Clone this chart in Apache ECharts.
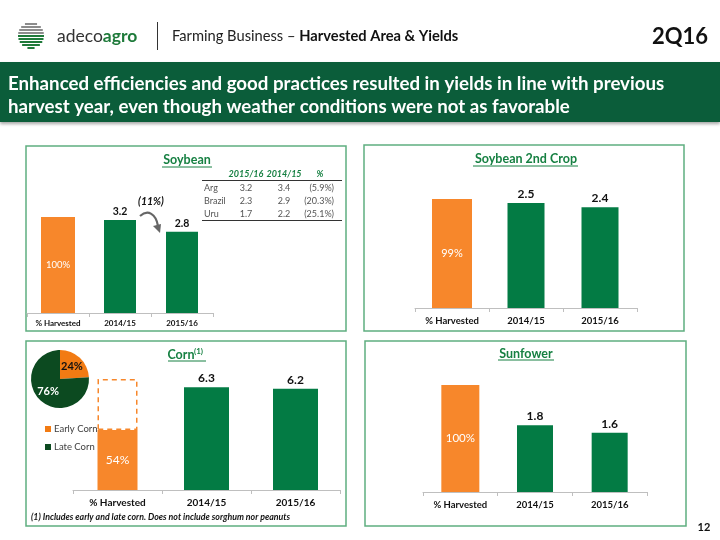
<!DOCTYPE html>
<html><head><meta charset="utf-8">
<script src="https://cdn.jsdelivr.net/npm/echarts@6/dist/echarts.min.js"></script>
<style>html,body{margin:0;padding:0;background:#fff}#c{width:720px;height:540px}</style>
</head><body><div id="c"></div>
<script>
// ---------- data ----------
const categories = ['% Harvested', '2014/15', '2015/16'];
const soybeanHarvestedPct = [100, null, null];
const soybeanYield = [null, 3.2, 2.8];
const soybean2HarvestedPct = [99, null, null];
const soybean2Yield = [null, 2.5, 2.4];
const cornHarvestedPct = [54, null, null];
const cornPendingPct = [46, null, null];
const cornYield = [null, 6.3, 6.2];
const sunflowerHarvestedPct = [100, null, null];
const sunflowerYield = [null, 1.8, 1.6];
const cornMixNames = ['Early Corn', 'Late Corn'];
const cornMixPct = [24, 76];
const tableHeader = ['2015/16', '2014/15', '%'];
const tableRegions = ['Arg', 'Brazil', 'Uru'];
const table2015 = ['3.2', '2.3', '1.7'];
const table2014 = ['3.4', '2.9', '2.2'];
const tableChange = ['(5.9%)', '(20.3%)', '(25.1%)'];
const soybeanChangeLabel = '(11%)';
const panelTitles = ['Soybean', 'Soybean 2nd Crop', 'Corn', 'Sunfower'];

// ---------- style ----------
const FF = 'Lato, "Open Sans", sans-serif';
const ORANGE = '#F7872B';
const GREEN = '#037B44';
const TGREEN = '#168042';
const DARKG = '#0C4A20';

const chart = echarts.init(document.getElementById('c'), null, {renderer: 'canvas'});

const grids = [
  {left: 27, top: 200, width: 186, height: 113},
  {left: 415, top: 190, width: 222, height: 118},
  {left: 73, top: 370, width: 267, height: 120},
  {left: 423, top: 375, width: 224, height: 117}
];
const greenMax = [3.89, 2.81, 7.35, 3.154];
const orangeMax = [117.7, 107.2, 108.1, 109.3];
const labelSize = [8, 9.5, 10, 9.5];
const labelMargin = [6, 8, 8, 8];

const xAxis = [], yAxis = [];
grids.forEach((g, i) => {
  xAxis.push({
    type: 'category', gridIndex: i, data: categories,
    axisLine: {lineStyle: {color: '#BFBFBF', width: 1}},
    axisTick: {show: true, length: 4, lineStyle: {color: '#BFBFBF'}},
    axisLabel: {interval: 0, hideOverlap: false, fontFamily: FF, fontWeight: 'bold', fontSize: labelSize[i], color: '#111', margin: labelMargin[i]}
  });
  xAxis.push({type: 'category', gridIndex: i, data: categories, show: false});
  yAxis.push({type: 'value', gridIndex: i, min: 0, max: greenMax[i], show: false, splitLine: {show: false}});
  yAxis.push({type: 'value', gridIndex: i, min: 0, max: orangeMax[i], show: false, splitLine: {show: false}});
});

function greenSeries(i, data, bw, fs) {
  return {
    type: 'bar', xAxisIndex: 2 * i, yAxisIndex: 2 * i, data: data, barWidth: bw,
    itemStyle: {color: GREEN}, silent: true,
    label: {show: true, position: 'top', distance: 3, fontFamily: FF, fontWeight: 'bold', fontSize: fs, color: '#111',
      formatter: p => Number(p.value).toFixed(1)}
  };
}
function orangeSeries(i, data, bw, fs, extra) {
  return Object.assign({
    type: 'bar', xAxisIndex: 2 * i + 1, yAxisIndex: 2 * i + 1, data: data, barWidth: bw,
    itemStyle: {color: ORANGE}, silent: true,
    label: {show: true, position: 'inside', fontFamily: FF, fontSize: fs, color: '#fff', formatter: '{c}%'}
  }, extra || {});
}

const series = [
  orangeSeries(0, soybeanHarvestedPct, 34, 9.5),
  greenSeries(0, soybeanYield, 32, 10.5),
  orangeSeries(1, soybean2HarvestedPct, 40, 11),
  greenSeries(1, soybean2Yield, 37, 12),
  orangeSeries(2, cornHarvestedPct, 40, 12, {stack: 'corn'}),
  {
    type: 'bar', xAxisIndex: 5, yAxisIndex: 5, data: cornPendingPct, barWidth: 40, stack: 'corn', silent: true,
    itemStyle: {color: 'rgba(255,255,255,0)', borderColor: ORANGE, borderWidth: 1.5, borderType: [5, 4]}
  },
  greenSeries(2, cornYield, 45, 12),
  orangeSeries(3, sunflowerHarvestedPct, 38, 11.5),
  greenSeries(3, sunflowerYield, 36, 12),
  {
    type: 'pie', center: [60, 379], radius: 29, startAngle: 90, clockwise: true, silent: true,
    labelLine: {show: false},
    label: {show: true, position: 'inside', fontFamily: FF, fontWeight: 'bold', fontSize: 11, formatter: '{c}%'},
    data: cornMixNames.map((n, k) => ({
      name: n, value: cornMixPct[k],
      itemStyle: {color: k === 0 ? '#F27B13' : DARKG},
      label: {color: k === 0 ? '#111' : '#fff'}
    }))
  }
];

// ---------- graphics ----------
const G = [];
function txt(x, y, text, opt) {
  G.push({type: 'text', x: x, y: y, silent: true, z: 10,
    style: Object.assign({text: text, fill: '#222', fontFamily: FF, fontSize: 10, align: 'left', verticalAlign: 'middle'}, opt || {})});
}
function line(x1, y1, x2, y2, color, w) {
  G.push({type: 'line', silent: true, z: 9, shape: {x1, y1, x2, y2}, style: {stroke: color, lineWidth: w || 1}});
}
// logo
for (let k = 0; k < 9; k++) {
  const yy = 23 + k * 3;
  const dy = yy + 1 - 35.5;
  const hw = Math.sqrt(Math.max(0, 13 * 13 - dy * dy));
  G.push({type: 'rect', silent: true, shape: {x: 31 - hw, y: yy, width: 2 * hw, height: 2},
    style: {fill: k < 4 ? '#8c8c8c' : '#1F7A3A'}});
}
txt(57, 36, '{a|adeco}{b|agro}', {rich: {a: {fontFamily: FF, fontSize: 17.5, fill: '#333'}, b: {fontFamily: FF, fontSize: 17.5, fontWeight: 'bold', fill: '#1E7A3A'}}});
line(157.5, 22, 157.5, 50, '#333', 1);
txt(172, 36, '{a|Farming Business – }{b|Harvested Area & Yields}', {rich: {a: {fontFamily: FF, fontSize: 14.7, fill: '#222'}, b: {fontFamily: FF, fontSize: 14.7, fontWeight: 'bold', fill: '#111'}}});
txt(708, 37, '2Q16', {fontSize: 22, fontWeight: 'bold', fill: '#111', align: 'right'});
// banner
G.push({type: 'rect', silent: true, shape: {x: 0, y: 62, width: 720, height: 60},
  style: {fill: '#0B5D3A', shadowBlur: 3, shadowColor: 'rgba(0,0,0,0.35)', shadowOffsetY: 2}});
txt(8, 84, 'Enhanced efficiencies and good practices resulted in yields in line with previous', {fontSize: 18.7, fontWeight: 'bold', fill: '#fff'});
txt(8, 107, 'harvest year, even though weather conditions were not as favorable', {fontSize: 18.7, fontWeight: 'bold', fill: '#fff'});
// panels
[[26, 146, 320, 185], [364, 145, 320, 186], [26, 341, 320, 185], [365, 341, 321, 185]].forEach(p => {
  G.push({type: 'rect', silent: true, shape: {x: p[0], y: p[1], width: p[2], height: p[3]},
    style: {fill: 'none', stroke: '#5FAE80', lineWidth: 1.5}});
});
// titles
const titlePos = [[187, 160], [526, 159], [181, 355], [526, 354]];
panelTitles.forEach((t, i) => {
  const p = titlePos[i];
  txt(p[0], p[1], t, {fontSize: 12.5, fontWeight: 'bold', fill: TGREEN, align: 'center'});
});
txt(194, 351, '(1)', {fontSize: 8, fontWeight: 'bold', fill: TGREEN, align: 'left'});
line(162, 167, 212, 167, TGREEN, 1);
line(473, 166, 578, 166, TGREEN, 1);
line(168, 361, 206, 361, TGREEN, 1);
line(498, 360, 554, 360, TGREEN, 1);
// soybean table
const colX = [246, 284, 334];
tableHeader.forEach((h, k) => {
  txt(k === 2 ? 320 : colX[k], 174, h, {fontSize: 9, fontWeight: 'bold', fontStyle: 'italic', fill: TGREEN, align: 'center'});
});
line(202, 180.5, 342, 180.5, '#333', 1);
tableRegions.forEach((r, k) => {
  const yy = 188 + k * 12.8;
  txt(204, yy, r, {fontSize: 9, fill: '#555'});
  txt(colX[0], yy, table2015[k], {fontSize: 9, fill: '#555', align: 'center'});
  txt(colX[1], yy, table2014[k], {fontSize: 9, fill: '#555', align: 'center'});
  txt(colX[2], yy, tableChange[k], {fontSize: 9, fill: '#555', align: 'right'});
});
line(202, 220.5, 342, 220.5, '#333', 1);
// change annotation
txt(151, 202, soybeanChangeLabel, {fontSize: 10.5, fontWeight: 'bold', fontStyle: 'italic', fill: '#111', align: 'center'});
G.push({type: 'bezierCurve', silent: true, shape: {x1: 140, y1: 216, x2: 158, y2: 226, cpx1: 148, cpy1: 209, cpx2: 156, cpy2: 214},
  style: {stroke: '#666', lineWidth: 2.2, fill: null}});
G.push({type: 'polygon', silent: true, shape: {points: [[153, 226], [161, 224], [160, 233]]}, style: {fill: '#666'}});
// footnote & page number
txt(31, 517, '(1) Includes early and late corn. Does not include sorghum nor peanuts', {fontSize: 8.8, fontWeight: 'bold', fontStyle: 'italic', fill: '#111'});
txt(704, 527, '12', {fontSize: 11, fontWeight: 'bold', fill: '#111', align: 'center'});

chart.setOption({
  animation: false,
  backgroundColor: '#fff',
  grid: grids,
  xAxis: xAxis,
  yAxis: yAxis,
  legend: {
    data: cornMixNames, orient: 'vertical', left: 40, top: 418, itemWidth: 6, itemHeight: 6, itemGap: 6,
    icon: 'rect', selectedMode: false,
    textStyle: {fontFamily: FF, fontSize: 9.5, color: '#404040', lineHeight: 12, padding: [0, 0, 0, -2]}
  },
  series: series,
  graphic: G
});
</script></body></html>
